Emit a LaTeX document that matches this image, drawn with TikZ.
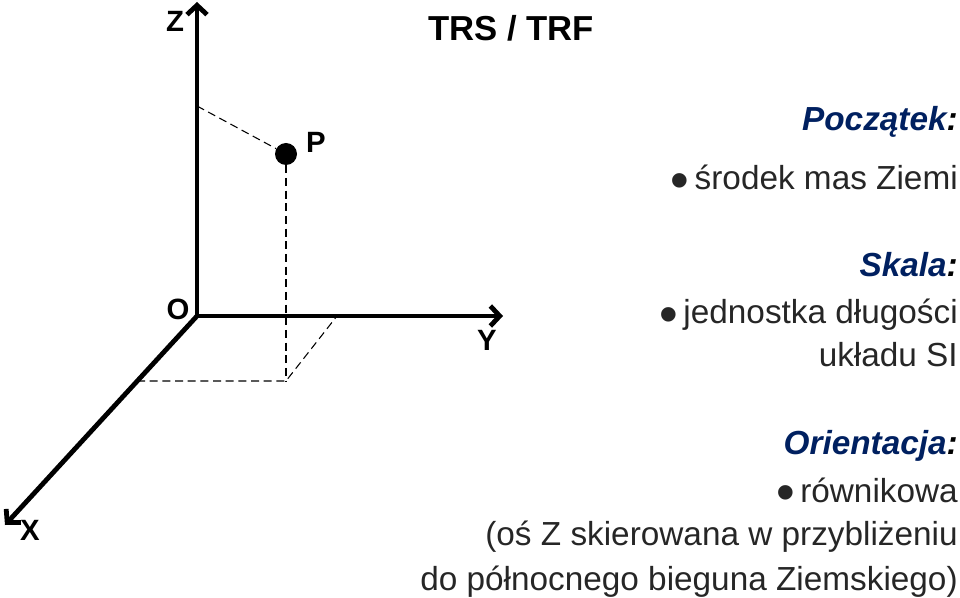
\documentclass[tikz,border=0pt]{standalone}
\usepackage{fontspec}
\setmainfont{Liberation Sans}
\usepackage{tikz}
\usetikzlibrary{arrows.meta}
\definecolor{navy}{RGB}{0,32,96}
\definecolor{txtgray}{RGB}{38,38,38}
\newcommand{\bul}{\raisebox{-6.5pt}{\scalebox{1.6}{\textbullet}}\hspace{4pt}}
\tikzset{
  axis/.style={
    -{Straight Barb[length=7pt, width=15pt]},
    line width=3.6pt
  },
  proj line/.style={
    line width=0.8pt,
    dash pattern=on 6pt off 3.5pt
  },
  axis label/.style={
    font=\fontsize{22}{26}\selectfont\bfseries,
    inner sep=0pt
  },
  point dot/.style={
    circle,
    fill=black,
    inner sep=0pt,
    minimum size=16.5pt
  },
  head text/.style={
    anchor=base east,
    inner sep=0pt,
    font=\fontsize{25}{30}\selectfont\bfseries\itshape,
    color=navy
  },
  body text/.style={
    anchor=base east,
    inner sep=0pt,
    font=\fontsize{25}{30}\selectfont,
    color=txtgray
  }
}
\begin{document}
\begin{tikzpicture}[x=0.75pt, y=-0.75pt]
    \useasboundingbox (0,0) rectangle (960,598);

    % uklad osi
    \coordinate (O) at (197, 316);
    \coordinate (Zend) at (197, 2);
    \coordinate (Yend) at (503, 316);
    \coordinate (Xend) at (5, 525);
    \draw[axis] (O) -- (Zend);
    \draw[axis] (O) -- (Yend);
    \draw[axis] (O) -- (Xend);

    \node[axis label] (labZ) at (175, 21) {Z};
    \node[axis label] (labO) at (178, 309) {O};
    \node[axis label] (labY) at (487, 340) {Y};
    \node[axis label] (labX) at (30, 530) {X};

    % punkt P i jego rzuty
    \node[point dot] (P) at (286, 154) {};
    \node[axis label] (labP) at (316, 142) {P};
    \coordinate (Pz) at (197, 106);
    \coordinate (Pxy) at (286, 381);
    \coordinate (Px) at (137, 381);
    \coordinate (Py) at (337, 316);
    \draw[proj line] (Pz) -- (P);
    \draw[proj line] (P) -- (Pxy);
    \draw[proj line] (Px) -- (Pxy) -- (Py);

    % tytul
    \node[font=\fontsize{26}{30}\selectfont\bfseries, anchor=base, inner sep=0pt] (title) at (511, 41) {TRS / TRF};

    % opis po prawej
    \node[head text] (poczatek) at (958, 131) {Początek\textcolor{black}{:}};
    \node[body text] (srodek) at (958, 190) {\bul środek mas Ziemi};
    \node[head text] (skala) at (958, 277) {Skala\textcolor{black}{:}};
    \node[body text] (jednostka) at (958, 324) {\bul jednostka długości};
    \node[body text] (uklad) at (958, 367) {układu SI};
    \node[head text] (orient) at (958, 455) {Orientacja\textcolor{black}{:}};
    \node[body text] (rownik) at (958, 502) {\bul równikowa};
    \node[body text] (os) at (958, 545) {(oś Z skierowana w przybliżeniu};
    \node[body text] (biegun) at (958, 590) {do północnego bieguna Ziemskiego)};

\end{tikzpicture}
\end{document}
